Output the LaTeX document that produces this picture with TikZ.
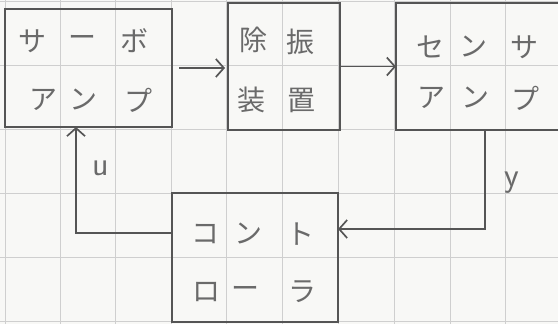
\documentclass[tikz,border=0pt]{standalone}
\usepackage{fontspec}
\newfontfamily\jp{Noto Sans CJK JP}
\usetikzlibrary{arrows.meta}
\definecolor{pen}{HTML}{555555}
\definecolor{ink}{HTML}{6A6A6A}
\definecolor{gridc}{HTML}{CFCFCF}
\definecolor{paper}{HTML}{F8F8F6}
\begin{document}
\begin{tikzpicture}[x=1pt,y=-1pt,
  pencil/.style={draw=pen, line width=1.7pt},
  box/.style={pencil, rectangle, inner sep=0pt, outer sep=0pt},
  ch/.style={text=ink, font=\jp\fontsize{28}{28}\selectfont, inner sep=0pt},
  lab/.style={text=ink, font=\sffamily\fontsize{34}{34}\selectfont, inner sep=0pt},
  conn/.style={pencil, -{Straight Barb[length=8pt,width=18pt]}},
  gridline/.style={draw=gridc, line width=0.7pt}]
\fill[paper] (0,0) rectangle (558,324);
\useasboundingbox (0,0) rectangle (558,324);
\clip (0,0) rectangle (558,324);
% graph paper
\foreach \x in {5,60,115,171,226,282,338,394,450,505}
  \draw[gridline] (\x,0) -- (\x,324);
\foreach \y in {1,65,129,193,257,321}
  \draw[gridline] (0,\y) -- (558,\y);
% boxes
\node[box, minimum width=167pt, minimum height=118pt] (servo) at (88.5,68) {};
\node[box, minimum width=112pt, minimum height=127pt] (plant) at (284,66.5) {};
\node[box, minimum width=180pt, minimum height=127pt] (sensor) at (486,66.5) {};
\node[box, minimum width=166pt, minimum height=129pt] (ctrl) at (255,257.5) {};
% servo amp text
\node[ch] (s1) at (32,41) {サ};
\node[ch] (s2) at (82,41) {ー};
\node[ch] (s3) at (134,41) {ボ};
\node[ch] (s4) at (43,100) {ア};
\node[ch] (s5) at (84,100) {ン};
\node[ch] (s6) at (138,100) {プ};
% plant text
\node[ch] (p1) at (253,40) {除};
\node[ch] (p2) at (300,42) {振};
\node[ch] (p3) at (251,100) {装};
\node[ch] (p4) at (301,100) {置};
% sensor amp text
\node[ch] (e1) at (430,47) {セ};
\node[ch] (e2) at (473,47) {ン};
\node[ch] (e3) at (524,47) {サ};
\node[ch] (e4) at (431,98) {ア};
\node[ch] (e5) at (475,98) {ン};
\node[ch] (e6) at (525,98) {プ};
% controller text
\node[ch] (c1) at (205,234) {コ};
\node[ch] (c2) at (248,234) {ン};
\node[ch] (c3) at (300,234) {ト};
\node[ch] (c4) at (206,292) {ロ};
\node[ch] (c5) at (245,292) {ー};
\node[ch] (c6) at (302,292) {ラ};
% connectors
\draw[conn, shorten <=7pt, shorten >=3pt] (servo.east) -- (servo.east -| plant.west);
\draw[conn] (plant.east) -- (sensor.west);
\coordinate (yc) at (485,229);
\draw[conn] (sensor.south -| yc) -- (yc) -- (yc -| ctrl.east);
\coordinate (uc) at (76,233);
\draw[conn] (ctrl.west |- uc) -- (uc) -- (uc |- servo.south);
% signal labels
\node[lab] (ulab) at (101,168) {u};
\node[lab] (ylab) at (512,183) {y};
\end{tikzpicture}
\end{document}
